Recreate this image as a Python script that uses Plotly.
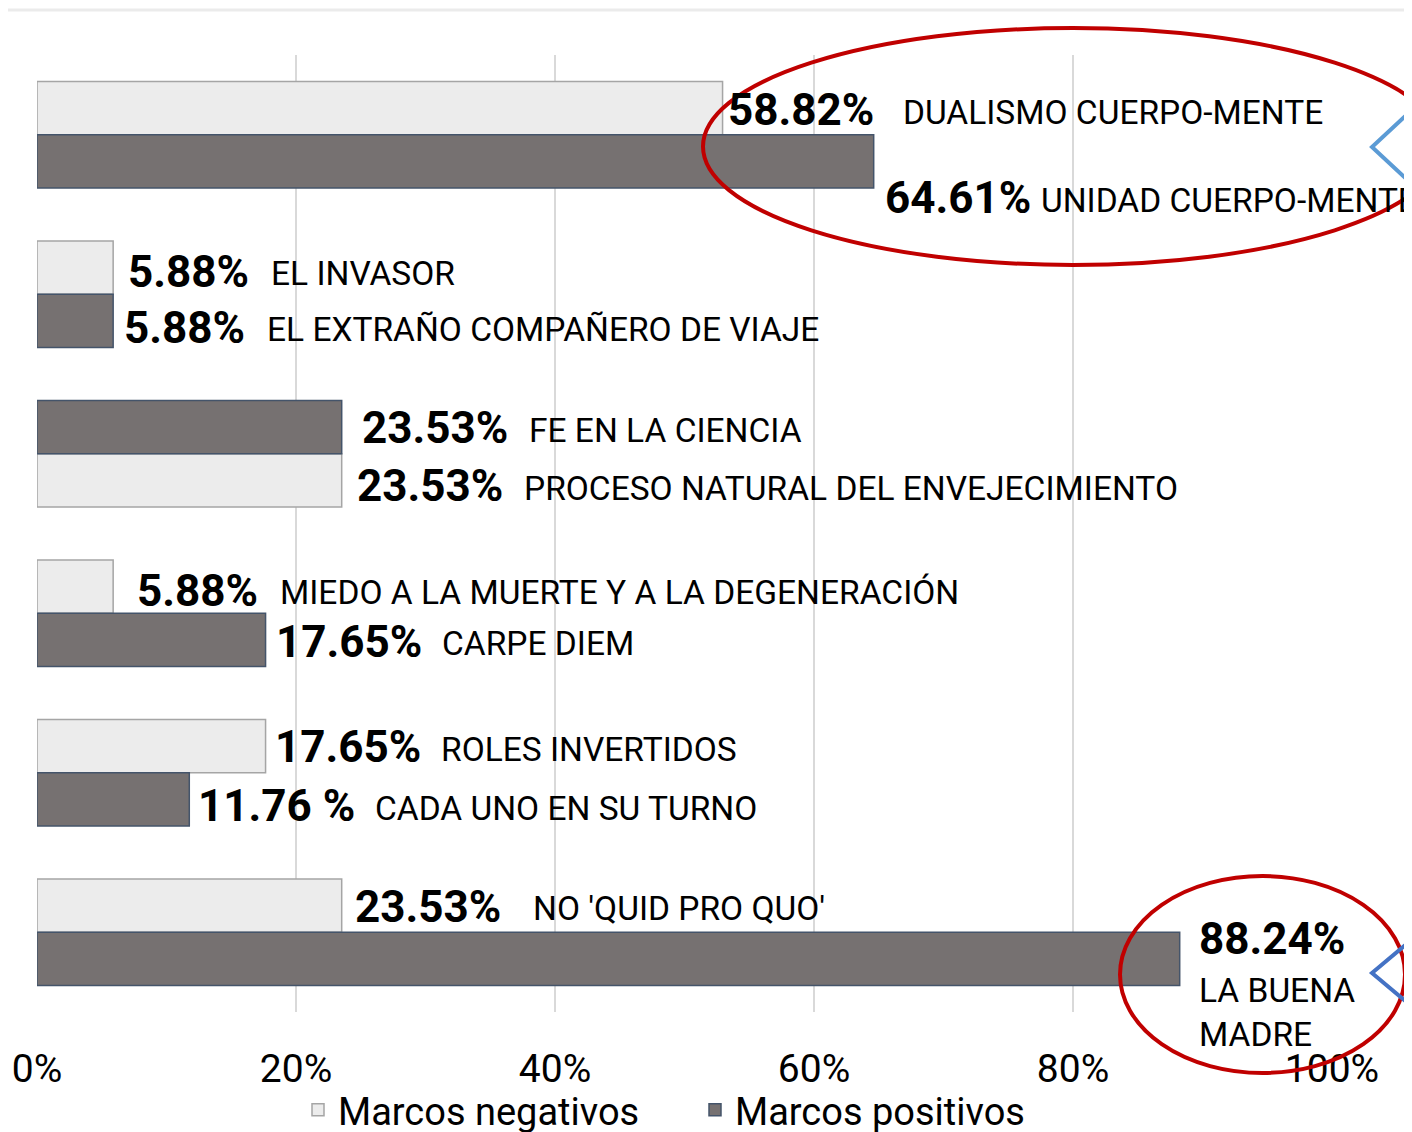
import plotly.graph_objects as go

# ---------------- data ----------------
groups = ["Cuerpo-mente", "Invasor / Compañero", "Ciencia / Envejecimiento",
          "Miedo / Carpe diem", "Roles / Turno", "Quid pro quo / Buena madre"]
neg_values = [52.94, 5.88, 23.53, 5.88, 17.65, 23.53]      # Marcos negativos
pos_values = [64.61, 5.88, 23.53, 17.65, 11.76, 88.24]     # Marcos positivos
neg_on_top = [True, True, False, True, True, True]
neg_pct = ["58.82%", "5.88%", "23.53%", "5.88%", "17.65%", "23.53%"]
neg_names = ["DUALISMO CUERPO-MENTE", "EL INVASOR", "PROCESO NATURAL DEL ENVEJECIMIENTO",
             "MIEDO A LA MUERTE Y A LA DEGENERACIÓN", "ROLES INVERTIDOS", "NO 'QUID PRO QUO'"]
pos_pct = ["64.61%", "5.88%", "23.53%", "17.65%", "11.76 %", "88.24%"]
pos_names = ["UNIDAD CUERPO-MENTE", "EL EXTRAÑO COMPAÑERO DE VIAJE", "FE EN LA CIENCIA",
             "CARPE DIEM", "CADA UNO EN SU TURNO", "LA BUENA<br>MADRE"]
x_ticks = [0, 20, 40, 60, 80, 100]
x_tick_labels = ["0%", "20%", "40%", "60%", "80%", "100%"]

# ---------------- layout helpers (pixel offsets of labels) ----------------
neg_num_dx = [3, 13, 13, 22, 7, 11]
neg_name_dx = [178, 156, 180, 165, 173, 189]
neg_dy = [-2, -4, -6, -4, -1, -1]
pos_num_dx = [9, 9, 18, 8, 7, 17]
pos_name_dx = [165, 152, 185, 174, 184, 17]
pos_num_dy = [-37, -7, -1, -2, -7, 20]
pos_name_dy = [-39, -9, -3, -4, -9, -54]

FONT = "Roboto, Lato, sans-serif"
NEG_FILL, NEG_LINE = "#ececec", "#a5a5a5"
POS_FILL, POS_LINE = "#767171", "#44546a"

neg_slot = [3 * i + (0 if t else 1) for i, t in enumerate(neg_on_top)]
pos_slot = [3 * i + (1 if t else 0) for i, t in enumerate(neg_on_top)]

fig = go.Figure()
fig.add_trace(go.Bar(x=neg_values, y=neg_slot, orientation="h", width=1,
                     name="Marcos negativos", customdata=groups,
                     marker=dict(color=NEG_FILL, line=dict(color=NEG_LINE, width=1.5))))
fig.add_trace(go.Bar(x=pos_values, y=pos_slot, orientation="h", width=1,
                     name="Marcos positivos", customdata=groups,
                     marker=dict(color=POS_FILL, line=dict(color=POS_LINE, width=1.5))))

ann = []
def add_label(v, slot, pct, name, ndx, mdx, ndy, mdy):
    ann.append(dict(x=v, y=slot, xref="x", yref="y", text="<b>" + pct + "</b>",
                    showarrow=False, xanchor="left", yanchor="middle",
                    xshift=ndx, yshift=ndy, font=dict(family=FONT, size=44, color="black")))
    ann.append(dict(x=v, y=slot, xref="x", yref="y", text=name, align="left",
                    showarrow=False, xanchor="left", yanchor="middle",
                    xshift=mdx, yshift=mdy, font=dict(family=FONT, size=33.5, color="black")))

for i in range(len(groups)):
    add_label(neg_values[i], neg_slot[i], neg_pct[i], neg_names[i],
              neg_num_dx[i], neg_name_dx[i], neg_dy[i], neg_dy[i] - 2)
    add_label(pos_values[i], pos_slot[i], pos_pct[i], pos_names[i],
              pos_num_dx[i], pos_name_dx[i], pos_num_dy[i], pos_name_dy[i])

# plot area on screen: x 37..1332, y 55..1012 (page body has an 8px margin)
def px(x):
    return (x - 37) / 1295.0
def py(y):
    return (1012 - y) / 957.0

shapes = [
    dict(type="line", xref="paper", yref="paper", x0=px(-10), x1=px(1430), y0=py(10), y1=py(10),
         line=dict(color="#ebebeb", width=3)),
    dict(type="circle", xref="paper", yref="paper", x0=px(703), x1=px(1443), y0=py(265), y1=py(28),
         line=dict(color="#c00000", width=4)),
    dict(type="circle", xref="paper", yref="paper", x0=px(1120), x1=px(1405), y0=py(1073), y1=py(876),
         line=dict(color="#c00000", width=4)),
    dict(type="path", xref="paper", yref="paper",
         path=f"M {px(1416)},{py(106)} L {px(1372)},{py(147)} L {px(1416)},{py(188)}",
         line=dict(color="#5b9bd5", width=4)),
    dict(type="path", xref="paper", yref="paper",
         path=f"M {px(1416)},{py(936)} L {px(1372)},{py(973)} L {px(1416)},{py(1010)}",
         line=dict(color="#4472c4", width=4)),
]

fig.update_layout(
    width=1412, height=1132,
    margin=dict(l=29, r=88, t=47, b=128, autoexpand=False),
    paper_bgcolor="white", plot_bgcolor="white",
    barmode="overlay", showlegend=True,
    font=dict(family=FONT, color="black"),
    annotations=ann, shapes=shapes,
    legend=dict(orientation="h", x=px(298), xanchor="left", y=py(1110), yanchor="middle",
                font=dict(family=FONT, size=38, color="black"), itemwidth=30,
                entrywidth=352, entrywidthmode="pixels",
                traceorder="normal", bgcolor="rgba(0,0,0,0)"),
    xaxis=dict(range=[0, 100], tickvals=x_ticks, ticktext=x_tick_labels,
               showgrid=True, gridcolor="#d9d9d9", gridwidth=2, zeroline=False,
               showline=False, ticks="outside", ticklen=22, tickcolor="rgba(0,0,0,0)",
               tickfont=dict(family=FONT, size=39, color="black"), fixedrange=True,
               automargin=False),
    yaxis=dict(range=[17, -1], showticklabels=False, showgrid=False, zeroline=False,
               showline=False, fixedrange=True, automargin=False),
)

fig.write_html("out.html")
